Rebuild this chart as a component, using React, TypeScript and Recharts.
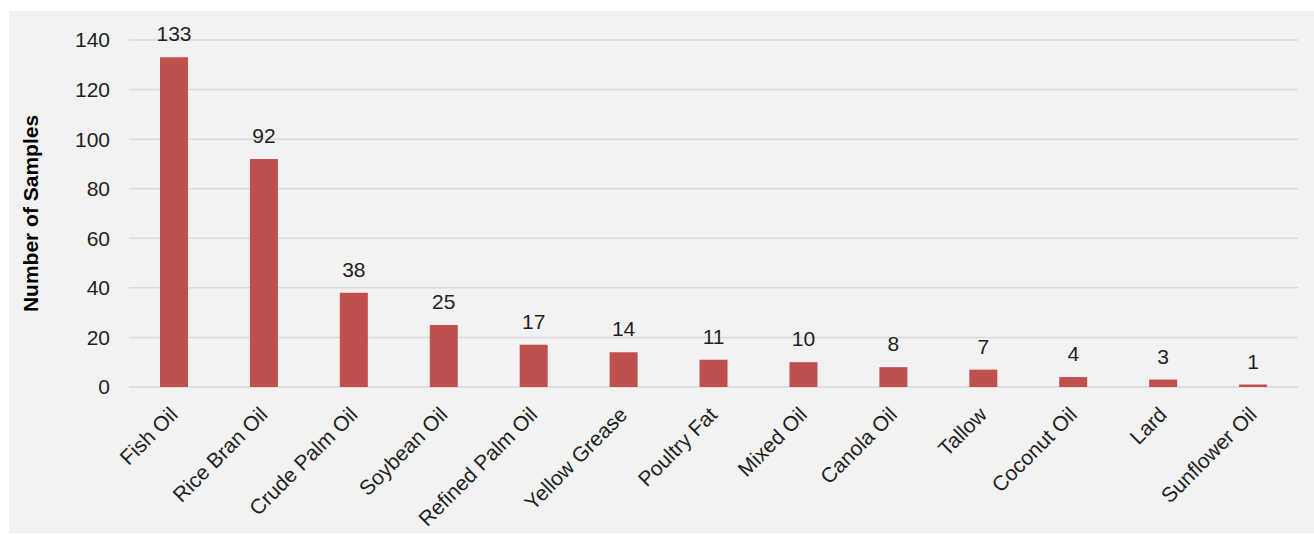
import React from 'react';
import { BarChart, Bar, XAxis, YAxis, CartesianGrid, LabelList } from 'recharts';

const categories = [
  'Fish Oil', 'Rice Bran Oil', 'Crude Palm Oil', 'Soybean Oil', 'Refined Palm Oil', 'Yellow Grease',
  'Poultry Fat', 'Mixed Oil', 'Canola Oil', 'Tallow', 'Coconut Oil', 'Lard', 'Sunflower Oil',
];
const sampleCounts = [133, 92, 38, 25, 17, 14, 11, 10, 8, 7, 4, 3, 1];
const yTicks = [0, 20, 40, 60, 80, 100, 120, 140];

const FONT = 'Arial, "Liberation Sans", sans-serif';
const TEXT = '#1f1f1f';
const FS = 21;

const data = categories.map((name, i) => ({ name, count: sampleCounts[i] }));

// rotated category labels, anchored at the end like the office export
const SlantTick = ({ x, y, payload }: any) => (
  <g transform={`translate(${x + 5},${y + 21})`}>
    <text transform="rotate(-45)" textAnchor="end" fontSize={FS} fontFamily={FONT} fill={TEXT}>
      {payload.value}
    </text>
  </g>
);

export default function App() {
  return (
    <div style={{ position: 'absolute', left: 9, top: 11, width: 1305, height: 522, background: '#f2f2f2' }}>
      <BarChart
        width={1305}
        height={522}
        data={data}
        margin={{ top: 29, right: 16, bottom: 0, left: 0 }}
      >
        <CartesianGrid vertical={false} stroke="#d9d9d9" strokeWidth={1.5} />
        <XAxis
          dataKey="name"
          interval={0}
          axisLine={false}
          tickLine={false}
          tick={<SlantTick />}
          height={146}
        />
        <YAxis
          domain={[0, 140]}
          ticks={yTicks}
          width={120}
          axisLine={false}
          tickLine={false}
          tickSize={0}
          tickMargin={19}
          tick={{ fontSize: FS, fontFamily: FONT, fill: TEXT }}
          label={{
            value: 'Number of Samples',
            angle: -90,
            position: 'insideLeft',
            offset: 22,
            style: { textAnchor: 'middle', fontSize: FS, fontWeight: 'bold', fontFamily: FONT, fill: '#000' },
          }}
        />
        <Bar dataKey="count" fill="#c0504d" barSize={28} isAnimationActive={false}>
          <LabelList
            dataKey="count"
            position="top"
            offset={16}
            style={{ fontSize: FS, fontFamily: FONT, fill: TEXT }}
          />
        </Bar>
      </BarChart>
    </div>
  );
}
